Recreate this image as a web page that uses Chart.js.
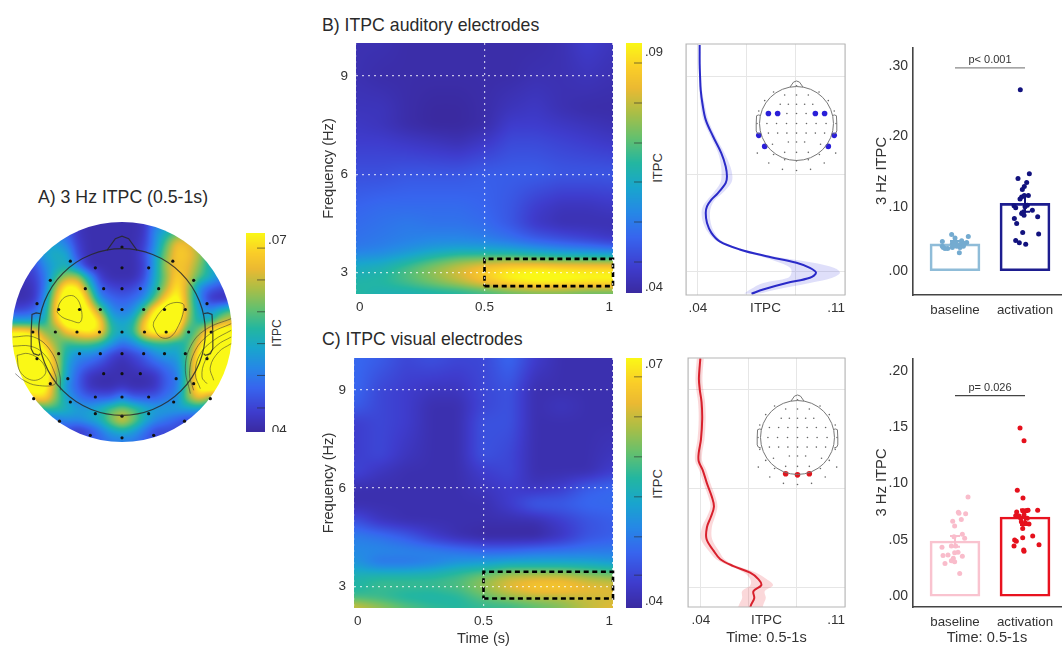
<!DOCTYPE html>
<html>
<head>
<meta charset="utf-8">
<title>ITPC</title>
<script src="https://cdn.jsdelivr.net/npm/chart.js@4"></script>
<style>
    html, body { margin: 0; padding: 0; background: #fff; }
    #page { position: relative; width: 1062px; height: 649px; overflow: hidden; font-family: "Liberation Sans", Arial, sans-serif; color: #333; }
    #page canvas { position: absolute; }
    .head { position: absolute; font-size: 17.7px; white-space: nowrap; color: #2a2a2a; }
    .cbar { position: absolute; font-size: 12px; transform: translate(-50%, -50%) rotate(-90deg); color: #333; }
</style>
</head>
<body>
<div id="page">
    <div class="head" style="left:38px;top:187px">A) 3 Hz ITPC (0.5-1s)</div>
    <div class="head" style="left:322px;top:15px">B) ITPC auditory electrodes</div>
    <div class="head" style="left:322px;top:329px">C) ITPC visual electrodes</div>
    <div class="cbar" style="left:277px;top:333px">ITPC</div>
    <div class="cbar" style="left:657px;top:168px;font-size:13px">ITPC</div>
    <div class="cbar" style="left:657px;top:484px;font-size:13px">ITPC</div>
</div>
<script>
// electrode layout (head radius = 1)
const electrodeX = [0, -.62, .61, -.32, 0, .32, -.86, .86, -.44, -.22, 0, .22, .44, -1.02, 1.02, -.76, -.51, -.26, 0, .26, .51, .76,
    -1.07, -.80, -.54, -.27, 0, .27, .53, .80, 1.07, -.76, -.51, -.26, 0, .26, .51, .76, -1.02, 1.02, -.22, 0, .22, -.65, .65, -.86, .86,
    -.32, 0, .32, -1.06, 1.06, -.62, .62, -.32, .32, 0, -.75, .75, -.38, .38, 0];
const electrodeY = [1.02, .85, .85, .77, .77, .77, .62, .62, .52, .52, .52, .52, .52, .34, .34, .27, .27, .27, .27, .27, .27, .27,
    0, 0, 0, 0, 0, 0, 0, 0, 0, -.26, -.26, -.26, -.26, -.26, -.26, -.26, -.32, -.32, -.50, -.50, -.50, -.56, -.56, -.62, -.62,
    -.78, -.78, -.78, -.80, -.80, -.84, -.84, -.98, -.98, -1.01, -1.07, -1.07, -1.24, -1.24, -1.27];
const auditoryX = [-.76, -.51, .51, .76, -1.02, 1.02, -.86, .86];
const auditoryY = [.27, .27, .27, .27, -.32, -.32, -.62, -.62];
const visualX = [-.32, 0, .32];
const visualY = [-.98, -1.01, -.98];
const noseX = [-.18, -.08, 0, .08, .18];
const noseY = [.98, 1.12, 1.15, 1.12, .98];
const earX = [.98, 1.03, 1.08, 1.09, 1.09, 1.06, 1.0, .98];
const earY = [.22, .23, .21, 0, -.2, -.26, -.28, -.26];

// panel A: topography, thousandths of ITPC
const topoAxis = [-1.32, -1.188, -1.056, -.924, -.792, -.66, -.528, -.396, -.264, -.132, 0, .132, .264, .396, .528, .66, .792, .924, 1.056, 1.188, 1.32];
const topoValues = [
    [50,50,50,50,50,50,42,41,41,41,41,41,42,48,50,52,52,52,50,50,50],
    [50,50,50,50,49,46,42,41,41,41,41,41,42,50,54,58,60,60,50,50,50],
    [48,48,50,52,52,49,43,41,41,41,41,41,43,50,58,66,65,60,54,50,50],
    [46,46,48,52,54,53,44,41,41,41,41,41,44,52,60,67,66,62,54,50,50],
    [44,44,44,50,53,54,48,41,41,41,41,41,43,52,62,66,65,60,54,50,50],
    [42,42,43,48,56,62,62,52,43,41,41,41,44,53,60,68,64,58,54,50,50],
    [41,41,42,48,62,72,70,58,46,44,43,44,47,54,62,70,62,50,46,44,44],
    [41,41,42,50,66,75,75,64,50,47,46,47,50,58,68,72,62,50,42,41,41],
    [44,44,46,52,68,76,76,70,60,50,48,50,58,70,76,76,62,52,50,54,58],
    [52,52,52,54,66,74,75,74,68,54,52,54,66,74,76,74,60,54,54,62,64],
    [70,70,68,60,58,66,68,70,68,56,53,56,68,72,72,68,54,60,72,74,74],
    [76,76,74,66,60,56,58,58,56,52,48,50,54,56,56,54,56,66,74,76,76],
    [78,78,76,72,62,54,50,50,48,44,42,44,46,50,52,52,58,70,76,78,78],
    [78,78,76,74,64,52,48,46,44,42,41,42,44,46,48,50,58,72,78,78,78],
    [76,76,76,74,62,52,46,42,41,41,41,41,41,42,46,48,58,72,78,78,78],
    [70,72,72,72,60,50,46,42,41,41,42,41,41,42,46,48,60,72,74,74,72],
    [60,64,68,68,60,52,48,46,46,46,50,46,46,46,48,50,60,66,60,56,54],
    [52,52,52,56,56,54,52,52,54,58,60,58,54,52,52,52,52,52,50,48,48],
    [46,46,46,46,48,50,50,52,54,60,65,60,54,50,48,46,44,44,44,44,44],
    [44,44,44,44,44,44,42,44,48,52,54,52,48,44,44,44,42,42,42,42,42],
    [44,44,44,44,44,44,44,46,46,48,48,48,46,44,44,44,42,42,42,42,42]
];
const contourLeftX = [-.78, -.74, -.66, -.56, -.49, -.50, -.62, -.72, -.78];
const contourLeftY = [.24, .36, .43, .42, .28, .12, .14, .18, .24];
const contourRightX = [.38, .46, .58, .73, .74, .68, .58, .46, .38, .38];
const contourRightY = [.12, .24, .34, .34, .26, .08, -.06, -.06, .06, .12];
const contourBottomLeft = [
    [[-1.26, -.28], [-1.12, -.26], [-.96, -.36], [-.92, -.5], [-1.06, -.58], [-1.22, -.48], [-1.26, -.28]],
    [[-1.31, -.17], [-1.10, -.17], [-.94, -.26], [-.82, -.46], [-.80, -.62], [-1.02, -.64], [-1.18, -.58], [-1.28, -.5]],
    [[-1.31, -.06], [-1.06, -.06], [-.86, -.22], [-.75, -.5], [-.74, -.7]]
];
const contourBottomRight = [
    [[1.31, .16], [1.02, .04], [.84, -.14], [.76, -.42], [.82, -.74]],
    [[1.31, .10], [1.06, -.02], [.88, -.22], [.81, -.5], [.86, -.7]],
    [[1.31, .02], [1.10, -.10], [.94, -.26], [.88, -.5], [.94, -.68]],
    [[1.31, -.06], [1.14, -.16], [1.0, -.34], [.96, -.54], [1.02, -.62]],
    [[1.31, -.14], [1.16, -.24], [1.06, -.42], [1.1, -.58]]
];

// panels B and C: time-frequency maps
const heatTimes = [0, .1, .2, .3, .4, .5, .6, .7, .8, .9, 1];
const heatFreqB = [10, 9, 8, 7.5, 7, 6, 5, 4.5, 4, 3.75, 3.5, 3.25, 3, 2.75, 2.5, 2.35];
const heatValuesB = [
    [42,42,41,41,41,41,41,41,42,45,43],
    [42,41,41,41,41,41,41,42,42,43,42],
    [43,43,41,40,40,41,43,44,42,41,41],
    [44,43,41,40,40,41,45,45,44,43,42],
    [45,45,44,43,42,44,47,47,46,45,44],
    [48,48,49,49,49,50,50,50,49,49,49],
    [51,52,52,52,52,51,49,45,43,43,44],
    [52,53,54,53,53,52,49,44,42,42,42],
    [53,54,55,56,56,55,53,50,48,46,44],
    [54,55,57,59,60,60,59,57,55,54,52],
    [57,58,61,65,68,68,68,66,64,63,62],
    [62,63,67,72,77,81,83,83,82,82,82],
    [63,65,70,75,80,86,90,92,91,90,90],
    [65,66,69,73,78,84,90,92,92,91,91],
    [66,65,66,68,70,74,78,80,80,78,78],
    [66,63,62,62,62,63,65,66,66,65,65]
];
const heatFreqC = [10, 9, 8.5, 8, 7, 6.5, 6, 5.5, 5, 4.5, 4, 3.75, 3.5, 3.25, 3, 2.75, 2.5, 2.35];
const heatValuesC = [
    [47,46,44,45,44,44,47,43,41,41,41],
    [47,44,43,42,42,44,45,41,41,41,41],
    [46,44,43,41,41,44,45,41,42,41,41],
    [43,44,43,41,41,45,45,41,41,41,41],
    [43,44,42,41,41,45,44,41,41,41,42],
    [44,42,41,41,41,43,44,41,41,41,43],
    [41,41,41,41,41,42,43,42,43,46,47],
    [41,41,41,41,41,41,43,46,46,47,47],
    [45,42,41,41,41,41,41,41,43,45,46],
    [49,48,46,43,41,40,40,40,42,45,46],
    [50,50,50,50,49,48,48,49,49,49,49],
    [51,47,47,48,50,51,52,52,52,52,51],
    [53,52,52,53,55,56,58,58,58,57,56],
    [55,56,56,56,57,60,63,64,64,62,61],
    [55,57,57,57,58,61,65,67,67,65,64],
    [56,56,55,55,56,59,62,64,64,64,64],
    [60,58,56,55,55,57,58,59,60,62,63],
    [65,62,59,57,56,56,56,58,60,63,65]
];
const boxTimes = [.5, 1, 1, .5, .5];
const boxFreqB = [2.59, 2.59, 3.42, 3.42, 2.59];
const boxFreqC = [2.62, 2.62, 3.44, 3.44, 2.62];

// line panels, 3 Hz row of the spectrum
const lineFreqB = [9.97, 9.41, 9.0, 8.59, 8.18, 7.67, 7.16, 6.65, 6.24, 5.93, 5.73, 5.42, 5.22, 5.01, 4.81, 4.50, 4.20, 3.94, 3.69, 3.48, 3.28, 3.12, 2.97, 2.82, 2.66, 2.46, 2.33];
const lineItpcB = [.0408, .0408, .0410, .0413, .0421, .0437, .0472, .0511, .0532, .0538, .0532, .0495, .0464, .0443, .0437, .0443, .0464, .0503, .0599, .0726, .0869, .0933, .0962, .0933, .0822, .0710, .0655];
const lineLowB = [.0404, .0404, .0405, .0407, .0411, .0425, .0460, .0496, .0510, .0512, .0506, .0473, .0446, .0423, .0417, .0425, .0449, .0491, .0583, .0696, .0790, .0840, .0845, .0830, .0711, .0648, .0620];
const lineHighB = [.0412, .0412, .0415, .0419, .0431, .0449, .0484, .0526, .0554, .0564, .0558, .0517, .0482, .0463, .0457, .0461, .0479, .0515, .0615, .0756, .0950, .1050, .1076, .1040, .0933, .0774, .0690];
const lineFreqC = [9.94, 9.33, 9.0, 8.61, 8.10, 7.48, 7.07, 6.82, 6.56, 6.15, 5.74, 5.44, 5.13, 4.82, 4.46, 4.11, 3.85, 3.64, 3.44, 3.24, 3.06, 2.88, 2.67, 2.47, 2.31];
const lineItpcC = [.0397, .0390, .0394, .0403, .0406, .0400, .0389, .0389, .0408, .0429, .0453, .0463, .0448, .0429, .0427, .0461, .0494, .0558, .0639, .0680, .0693, .0655, .0659, .0644, .0636];
const lineLowC = [.0380, .0373, .0377, .0386, .0389, .0383, .0372, .0372, .0391, .0412, .0436, .0446, .0428, .0405, .0400, .0436, .0474, .0540, .0610, .0640, .0640, .0600, .0600, .0585, .0575];
const lineHighC = [.0414, .0407, .0411, .0420, .0423, .0417, .0406, .0406, .0425, .0446, .0470, .0480, .0468, .0453, .0454, .0486, .0514, .0576, .0668, .0720, .0750, .0710, .0715, .0703, .0697];

// bar panels
const barLabels = ['baseline', 'activation'];
const meansB = [.0475, .105];
const errLowB = [.0435, .093];
const errHighB = [.0515, .1155];
const zeroB = .0095; // the .00 tick sits closer to .10 than the others in the original
const baseXB = [.952, 1.19, 1, .819, 1.095, 1.167, 1.01, .962, 1.133, 1.071, .976, 1.024, 1.119, .819, .857, .895, .962, 1.071, .833, 1.062];
const baseYB = [.0608, .058, .056, .0508, .0518, .0494, .0494, .048, .048, .0466, .0456, .0442, .0442, .0442, .0409, .0409, .0423, .0423, .0423, .0348];
const actXB = [1.933, 2.062, 1.9, 2.024, 1.99, 1.962, 1.952, 1.929, 1.99, 2.048, 1.843, 1.867, 2, 2.033, 2.105, 1.981, 1.952, 1.986, 2.181, 1.848, 1.881, 1.967, 2.195, 1.867, 1.919, 2.01];
const actYB = [.266, .147, .14, .1345, .129, .1245, .114, .111, .116, .116, .1015, .0986, .1, .1024, .0953, .093, .0905, .088, .0858, .0835, .0764, .0636, .0617, .0523, .049, .047];
const meansC = [.049, .0703];
const errLowC = [.044, .0632];
const errHighC = [.0535, .077];
const baseXC = [1.186, 1.048, 1.152, 1.057, .967, 1.09, .995, 1.105, 1.138, .986, 1.01, .948, .814, .9, .829, .995, 1.043, 1.105, .976, .948, .995, .857, 1.067];
const baseYC = [.0881, .0745, .0733, .0736, .0665, .068, .0624, .055, .0514, .0529, .0446, .0446, .0434, .0366, .0361, .0387, .039, .0355, .0337, .0316, .0307, .029, .0201];
const actXC = [1.929, 1.986, 1.89, 1.971, 2.181, 1.881, 1.967, 2.019, 2.043, 1.867, 1.914, 1.938, 1.986, 2.033, 1.948, 2.01, 1.976, 2.057, 1.967, 1.967, 2.11, 1.852, 1.876, 2.2, 1.843, 1.981, 1.986];
const actYC = [.1492, .138, .094, .0872, .0762, .0748, .0759, .0759, .0762, .0715, .0712, .0691, .0721, .0691, .0662, .0647, .0641, .0641, .06, .052, .0535, .0499, .0488, .0458, .0446, .0411, .0399];

const FONT = '"Liberation Sans", Arial, sans-serif';
const TEXT = '#333';
Chart.defaults.font.family = FONT;
Chart.defaults.animation = false;
Chart.defaults.responsive = false;
Chart.defaults.layout.autoPadding = false;
Chart.defaults.plugins.legend.display = false;
Chart.defaults.plugins.tooltip.enabled = false;

// parula-like colormap
const cmap = [
    [0, 58, 42, 160], [.1, 62, 60, 205], [.22, 55, 100, 238], [.32, 38, 135, 230], [.42, 25, 165, 205],
    [.52, 35, 182, 160], [.62, 100, 192, 110], [.72, 170, 190, 70], [.82, 235, 185, 50], [.9, 250, 205, 40], [1, 250, 248, 22]
];
function colorAt(t) {
    t = Math.max(0, Math.min(1, t));
    for (let i = 1; i < cmap.length; i++) {
        if (t <= cmap[i][0]) {
            const a = cmap[i - 1], b = cmap[i], f = (t - a[0]) / (b[0] - a[0]);
            return [a[1] + (b[1] - a[1]) * f, a[2] + (b[2] - a[2]) * f, a[3] + (b[3] - a[3]) * f];
        }
    }
    return cmap[cmap.length - 1].slice(1);
}

function locate(axis, v) {
    for (let i = 0; i < axis.length - 1; i++) {
        const lo = Math.min(axis[i], axis[i + 1]), hi = Math.max(axis[i], axis[i + 1]);
        if (v >= lo && v <= hi) return [i, (v - axis[i]) / (axis[i + 1] - axis[i])];
    }
    const first = Math.abs(v - axis[0]) < Math.abs(v - axis[axis.length - 1]);
    return first ? [0, 0] : [axis.length - 2, 1];
}

function boxBlur(buf, w, h, r) {
    const tmp = new Float32Array(buf.length);
    for (let pass = 0; pass < 3; pass++) {
        for (let y = 0; y < h; y++) {
            for (let x = 0; x < w; x++) {
                let s = 0;
                for (let k = -r; k <= r; k++) s += buf[y * w + Math.max(0, Math.min(w - 1, x + k))];
                tmp[y * w + x] = s / (2 * r + 1);
            }
        }
        for (let x = 0; x < w; x++) {
            for (let y = 0; y < h; y++) {
                let s = 0;
                for (let k = -r; k <= r; k++) s += tmp[Math.max(0, Math.min(h - 1, y + k)) * w + x];
                buf[y * w + x] = s / (2 * r + 1);
            }
        }
    }
}

// paints a value grid behind the datasets, every pixel goes through the chart scales
function heatPlugin(cols, rows, values, vmin, vmax, blur, discRadius) {
    return {
        id: 'heat',
        beforeDatasetsDraw(chart) {
            const { ctx, chartArea: a, scales } = chart;
            const w = Math.round(a.right - a.left), h = Math.round(a.bottom - a.top);
            const buf = new Float32Array(w * h);
            for (let py = 0; py < h; py++) {
                const [r, fr] = locate(rows, scales.y.getValueForPixel(a.top + py + .5));
                for (let px = 0; px < w; px++) {
                    const [c, fc] = locate(cols, scales.x.getValueForPixel(a.left + px + .5));
                    const top = values[r][c] * (1 - fc) + values[r][c + 1] * fc;
                    const bot = values[r + 1][c] * (1 - fc) + values[r + 1][c + 1] * fc;
                    buf[py * w + px] = top * (1 - fr) + bot * fr;
                }
            }
            boxBlur(buf, w, h, blur);
            const off = document.createElement('canvas');
            off.width = w; off.height = h;
            const octx = off.getContext('2d');
            const img = octx.createImageData(w, h);
            for (let i = 0; i < buf.length; i++) {
                const c = colorAt((buf[i] / 1000 - vmin) / (vmax - vmin));
                img.data[i * 4] = c[0]; img.data[i * 4 + 1] = c[1]; img.data[i * 4 + 2] = c[2]; img.data[i * 4 + 3] = 255;
            }
            octx.putImageData(img, 0, 0);
            ctx.save();
            if (discRadius) {
                const cx = scales.x.getPixelForValue(0), cy = scales.y.getPixelForValue(0);
                ctx.beginPath();
                ctx.arc(cx, cy, scales.x.getPixelForValue(discRadius) - cx, 0, Math.PI * 2);
                ctx.clip();
            }
            ctx.drawImage(off, a.left, a.top);
            ctx.restore();
        }
    };
}

// head circle, nose and ears
function headPlugin(color, lineWidth) {
    return {
        id: 'headOutline',
        afterDatasetsDraw(chart) {
            const { ctx, scales: { x, y } } = chart;
            ctx.save();
            ctx.strokeStyle = color;
            ctx.lineWidth = lineWidth;
            ctx.beginPath();
            ctx.arc(x.getPixelForValue(0), y.getPixelForValue(0), x.getPixelForValue(1) - x.getPixelForValue(0), 0, Math.PI * 2);
            ctx.stroke();
            [[noseX, 1], [earX, 1], [earX, -1]].forEach(([xs, sign]) => {
                const ys = xs === noseX ? noseY : earY;
                ctx.beginPath();
                xs.forEach((v, i) => ctx.lineTo(x.getPixelForValue(v * sign), y.getPixelForValue(ys[i])));
                ctx.stroke();
            });
            ctx.restore();
        }
    };
}

function addCanvas(left, top, width, height) {
    const c = document.createElement('canvas');
    c.width = width; c.height = height;
    c.style.left = left + 'px';
    c.style.top = top + 'px';
    document.getElementById('page').appendChild(c);
    return c;
}

function xy(xs, ys) { return xs.map((v, i) => ({ x: v, y: ys[i] })); }
function pairs(list) { return list.map(p => ({ x: p[0], y: p[1] })); }
function setTicks(values) { return s => { s.ticks = values.map(v => ({ value: v })); }; }
// keep the plot rectangle exact: fixed axis size, no label overhang
function fixAxis(width, height) {
    return s => {
        if (width !== null) s.width = width;
        if (height !== null) s.height = height;
        s.paddingLeft = s.paddingRight = s.paddingTop = s.paddingBottom = 0;
    };
}

// panel A
const contourSets = [xy(contourLeftX, contourLeftY), xy(contourRightX, contourRightY)]
    .concat(contourBottomLeft.map(pairs), contourBottomRight.map(pairs));
new Chart(addCanvas(12, 222, 220, 220), {
    type: 'scatter',
    data: {
        datasets: contourSets.map(d => ({
            data: d, showLine: true, tension: .4, pointRadius: 0, borderColor: 'rgba(50,50,50,.6)', borderWidth: .9
        })).concat([{
            data: xy(electrodeX, electrodeY), pointRadius: 1.6, backgroundColor: '#111', borderWidth: 0
        }])
    },
    options: {
        scales: {
            x: { type: 'linear', display: false, min: -1.32, max: 1.32 },
            y: { type: 'linear', display: false, min: -1.32, max: 1.32 }
        }
    },
    plugins: [heatPlugin(topoAxis, topoAxis.slice().reverse(), topoValues, .04, .07, 3, 1.32), headPlugin('rgba(40,40,40,.85)', 1.2)]
});

// colorbars
const cbarMarksA = [.0678, .063, .0582, .0534, .0486, .0437];
const cbarMarksB = [.0861, .0781, .0701, .0623, .0543, .0463];
const cbarMarksC = [.0678, .063, .0582, .0534, .0486, .044];
function colorbar(left, top, barW, height, vmin, vmax, labelTicks, labels, marks, fontSize) {
    new Chart(addCanvas(left, top, barW + 34, height), {
        type: 'scatter',
        data: { datasets: [] },
        options: {
            scales: {
                x: { type: 'linear', display: false, min: 0, max: 1 },
                y: {
                    type: 'linear', position: 'right', min: vmin, max: vmax,
                    afterBuildTicks: setTicks(labelTicks),
                    afterFit: fixAxis(34, null),
                    grid: { display: false, drawTicks: false },
                    border: { display: false },
                    ticks: { padding: 3, color: TEXT, font: { size: fontSize }, callback: (v, i) => labels[i] }
                }
            }
        },
        plugins: [{
            id: 'bar',
            beforeDatasetsDraw(chart) {
                const { ctx, chartArea: a, scales: { y } } = chart;
                for (let py = Math.floor(a.top); py < a.bottom; py++) {
                    const c = colorAt((y.getValueForPixel(py + .5) - vmin) / (vmax - vmin));
                    ctx.fillStyle = `rgb(${c[0]},${c[1]},${c[2]})`;
                    ctx.fillRect(a.left, py, a.right - a.left, 1);
                }
                ctx.fillStyle = 'rgba(40,40,40,.6)';
                marks.forEach(m => ctx.fillRect(a.right - 8, y.getPixelForValue(m), 8, 1));
            }
        }]
    });
}
colorbar(246, 233, 19, 199, .04, .07, [.0403, .0689], ['.04', '.07'], cbarMarksA, 13.5);
colorbar(626, 43, 16, 250, .04, .09, [.0412, .0882], ['.04', '.09'], cbarMarksB, 13);
colorbar(626, 358, 16, 250, .04, .07, [.0408, .0692], ['.04', '.07'], cbarMarksC, 13);

// time-frequency maps
function heatmap(rect, ymin, ymax, freqs, values, vmax, boxFreq, timeTitle) {
    const [l, t, w, h] = rect;
    const canvasLeft = 320, bottomSpace = timeTitle ? 40 : 24;
    new Chart(addCanvas(canvasLeft, t - 2, l + w - canvasLeft + 2, h + bottomSpace + 2), {
        type: 'scatter',
        data: {
            datasets: [{
                data: xy(boxTimes, boxFreq), showLine: true, pointRadius: 0, borderColor: '#000', borderWidth: 2.6,
                borderDash: [5, 3.6], clip: false
            }]
        },
        options: {
            layout: { padding: { top: 2, right: 2 } },
            scales: {
                x: {
                    type: 'linear', min: 0, max: 1,
                    afterBuildTicks: setTicks([0, .5, 1]),
                    afterFit: fixAxis(null, bottomSpace),
                    grid: { z: 1, color: 'rgba(255,255,255,.7)', lineWidth: 1.2, drawTicks: false },
                    border: { display: false, dash: [2, 4] },
                    ticks: { align: 'inner', padding: 5, maxRotation: 0, color: TEXT, font: { size: 13.5 }, callback: v => String(v) },
                    title: { display: !!timeTitle, text: timeTitle, color: TEXT, font: { size: 14.6 }, padding: { top: 4, bottom: 0 } }
                },
                y: {
                    type: 'linear', min: ymin, max: ymax,
                    afterBuildTicks: setTicks([3, 6, 9]),
                    afterFit: fixAxis(l - canvasLeft, null),
                    grid: { z: 1, color: 'rgba(255,255,255,.7)', lineWidth: 1.2, drawTicks: false },
                    border: { display: false, dash: [2, 4] },
                    ticks: { padding: 8, color: TEXT, font: { size: 13.5 } },
                    title: { display: true, text: 'Frequency (Hz)', color: TEXT, font: { size: 14.6 }, padding: { top: 0, bottom: 4 } }
                }
            }
        },
        plugins: [heatPlugin(heatTimes, freqs, values, .04, vmax, 4)]
    });
}
heatmap([356, 43, 257, 251], 2.35, 10, heatFreqB, heatValuesB, .09, boxFreqB, '');
heatmap([354, 358, 259, 250], 2.33, 9.98, heatFreqC, heatValuesC, .07, boxFreqC, 'Time (s)');

// line panels
function linePanel(rect, xmin, ymin, ymax, freqs, mid, low, high, lineColor, bandColor, timeTitle) {
    const [l, t, w, h] = rect;
    const bottomSpace = timeTitle ? 40 : 24;
    const midTick = (xmin + .11) / 2;
    const tickValues = [xmin, .04, .04 + .07 / 3, midTick, .04 + .14 / 3, .11];
    const tickText = ['', '.04', '', 'ITPC', '', '.11'];
    const asc = a => a.slice().reverse();
    const fr = asc(freqs);
    new Chart(addCanvas(l - 6, t - 2, w + 8, h + bottomSpace + 2), {
        type: 'line',
        data: {
            datasets: [
                { data: xy(asc(mid), fr), borderColor: lineColor, borderWidth: 2, pointRadius: 0, tension: .35, fill: false },
                { data: xy(asc(high), fr), borderWidth: 0, pointRadius: 0, tension: .35, fill: '+1', backgroundColor: bandColor },
                { data: xy(asc(low), fr), borderWidth: 0, pointRadius: 0, tension: .35, fill: false }
            ]
        },
        options: {
            indexAxis: 'y',
            layout: { padding: { left: 6, top: 2, right: 2 } },
            scales: {
                x: {
                    type: 'linear', min: xmin, max: .11,
                    afterBuildTicks: setTicks(tickValues),
                    afterFit: fixAxis(null, bottomSpace),
                    grid: { color: c => (c.tick && c.index === 3 ? 'transparent' : '#e6e6e6'), drawTicks: false },
                    border: { display: false },
                    ticks: { align: 'inner', autoSkip: false, maxRotation: 0, padding: 5, color: TEXT, font: { size: 13.5 }, callback: (v, i) => tickText[i] },
                    title: { display: !!timeTitle, text: timeTitle, color: TEXT, font: { size: 14.6 }, padding: { top: 4, bottom: 0 } }
                },
                y: {
                    type: 'linear', min: ymin, max: ymax, display: true,
                    afterBuildTicks: setTicks([3, 6, 9]),
                    afterFit: fixAxis(0, null),
                    grid: { color: '#e6e6e6', drawTicks: false },
                    border: { display: false },
                    ticks: { display: false }
                }
            }
        },
        plugins: [{
            id: 'frame',
            afterDatasetsDraw(chart) {
                const { ctx, chartArea: a } = chart;
                ctx.save();
                ctx.strokeStyle = '#b5b5b5';
                ctx.lineWidth = 1;
                ctx.strokeRect(a.left, a.top, a.right - a.left, a.bottom - a.top);
                ctx.restore();
            }
        }]
    });
}
linePanel([686, 44, 159, 251], .0343, 2.29, 10, lineFreqB, lineItpcB, lineLowB, lineHighB, '#2a2ac8', 'rgba(95,95,230,.2)', '');
linePanel([688, 358, 157, 249], .0337, 2.40, 9.95, lineFreqC, lineItpcC, lineLowC, lineHighC, '#d8202c', 'rgba(235,60,70,.2)', 'Time: 0.5-1s');

// inset heads
function inset(cx, cy, r, hiX, hiY, color) {
    const half = 1.42, size = Math.round(2 * half * r);
    new Chart(addCanvas(Math.round(cx - size / 2), Math.round(cy - size / 2), size, size), {
        type: 'scatter',
        data: {
            datasets: [
                { data: xy(hiX, hiY), pointRadius: 2.8, backgroundColor: color, borderWidth: 0 },
                { data: xy(electrodeX, electrodeY), pointRadius: .8, backgroundColor: '#666', borderWidth: 0 }
            ]
        },
        options: {
            scales: {
                x: { type: 'linear', display: false, min: -half, max: half },
                y: { type: 'linear', display: false, min: -half, max: half }
            }
        },
        plugins: [headPlugin('#777', 1)]
    });
}
inset(796, 123, 37, auditoryX, auditoryY, '#2a1fd8');
inset(797, 437, 37, visualX, visualY, '#e0161e');

// bar panels
function barPanel(rect, ymin, ymax, zero, tickVals, tickText, means, errLow, errHigh, baseX, baseY, actX, actY, colors, sig, timeTitle) {
    const [l, t, w, h] = rect;
    const axisLeft = 40, bottomSpace = timeTitle ? 40 : 26;
    new Chart(addCanvas(l - axisLeft, t, w + axisLeft + 1, h + bottomSpace), {
        data: {
            datasets: [
                {
                    type: 'bar', data: xy([1, 2], means), base: zero, barThickness: 50, backgroundColor: 'rgba(255,255,255,0)',
                    borderColor: [colors.baseBar, colors.actBar], borderWidth: 2, borderSkipped: false, order: 3
                },
                { type: 'scatter', data: xy(baseX, baseY), pointRadius: 2.5, backgroundColor: colors.basePoint, borderWidth: 0, order: 1 },
                { type: 'scatter', data: xy(actX, actY), pointRadius: 2.5, backgroundColor: colors.actPoint, borderWidth: 0, order: 1 },
                { type: 'scatter', data: xy([1, 2], [sig.y, sig.y]), showLine: true, pointRadius: 0, borderColor: sig.color, borderWidth: 1.2, order: 2 }
            ]
        },
        options: {
            layout: { padding: { right: 1 } },
            scales: {
                x: {
                    type: 'linear', offset: false, min: .4, max: 1 + (l + w - 955) / 70,
                    afterBuildTicks: setTicks([1, 2]),
                    afterFit: fixAxis(null, bottomSpace),
                    grid: { display: false, offset: false, tickLength: 3, tickColor: '#555' },
                    border: { color: '#444', width: 1.6 },
                    ticks: { padding: 4, color: TEXT, font: { size: 13.3 }, maxRotation: 0, callback: (v, i) => barLabels[i] },
                    title: { display: !!timeTitle, text: timeTitle, color: TEXT, font: { size: 14.6 }, padding: { top: 2, bottom: 0 } }
                },
                y: {
                    type: 'linear', min: ymin, max: ymax,
                    afterBuildTicks: setTicks(tickVals),
                    afterFit: fixAxis(axisLeft, null),
                    grid: { display: false, tickLength: 3, tickColor: '#555' },
                    border: { color: '#444', width: 1.6 },
                    ticks: { padding: 2, color: TEXT, font: { size: 14 }, callback: (v, i) => tickText[i] },
                    title: { display: true, text: '3 Hz ITPC', color: TEXT, font: { size: 14.8 }, padding: { top: 0, bottom: 0 } }
                }
            }
        },
        plugins: [{
            id: 'errAndSig',
            afterDatasetsDraw(chart) {
                const { ctx, scales: { x, y } } = chart;
                ctx.save();
                [colors.baseErr, colors.actErr].forEach((col, i) => {
                    const px = x.getPixelForValue(i + 1), cap = 5;
                    const lo = y.getPixelForValue(errLow[i]), hi = y.getPixelForValue(errHigh[i]);
                    ctx.strokeStyle = col;
                    ctx.lineWidth = 2;
                    ctx.beginPath();
                    ctx.moveTo(px, lo); ctx.lineTo(px, hi);
                    ctx.moveTo(px - cap, lo); ctx.lineTo(px + cap, lo);
                    ctx.moveTo(px - cap, hi); ctx.lineTo(px + cap, hi);
                    ctx.stroke();
                });
                ctx.fillStyle = TEXT;
                ctx.font = '11px ' + FONT;
                ctx.textAlign = 'center';
                ctx.textBaseline = 'bottom';
                ctx.fillText(sig.text, x.getPixelForValue(1.5), y.getPixelForValue(sig.y) - 2);
                ctx.restore();
            }
        }]
    });
}
barPanel([913, 47, 148, 248], -.0249, .3265, zeroB, [zeroB, .1, .2, .3], ['.00', '.10', '.20', '.30'],
    meansB, errLowB, errHighB, baseXB, baseYB, actXB, actYB,
    { baseBar: '#8fbcd8', actBar: '#1d1d8f', basePoint: '#74abd0', actPoint: '#12127e', baseErr: '#74abd0', actErr: '#12127e' },
    { y: .297, color: '#888', text: 'p< 0.001' }, '');
barPanel([913, 358, 148, 249], -.0095, .2113, 0, [0, .05, .1, .15, .2], ['.00', '.05', '.10', '.15', '.20'],
    meansC, errLowC, errHighC, baseXC, baseYC, actXC, actYC,
    { baseBar: '#f9c3cf', actBar: '#e8121f', basePoint: '#f9bccb', actPoint: '#e5101c', baseErr: '#f9bccb', actErr: '#e5101c' },
    { y: .178, color: '#444', text: 'p= 0.026' }, 'Time: 0.5-1s');
</script>
</body>
</html>
